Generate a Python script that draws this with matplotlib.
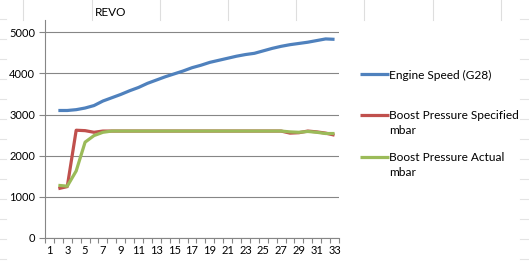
import matplotlib
matplotlib.use("Agg")
import matplotlib.pyplot as plt
from matplotlib.lines import Line2D
from matplotlib.legend_handler import HandlerLine2D
import numpy as np

categories = list(range(1, 34))
x_labels = [str(c) if c % 2 == 1 else "" for c in categories]

data_x = list(range(2, 34))
engine_speed = [3100, 3100, 3120, 3160, 3220, 3330, 3410, 3490, 3580, 3660, 3760,
                3840, 3920, 3990, 4060, 4140, 4200, 4270, 4320, 4370, 4420, 4460,
                4490, 4550, 4610, 4660, 4700, 4730, 4760, 4800, 4840, 4830]
boost_specified = [1200, 1250, 2620, 2610, 2570, 2600, 2600, 2600, 2600, 2600, 2600,
                   2600, 2600, 2600, 2600, 2600, 2600, 2600, 2600, 2600, 2600, 2600,
                   2600, 2600, 2600, 2600, 2550, 2560, 2600, 2580, 2550, 2500]
boost_actual = [1280, 1260, 1630, 2330, 2490, 2570, 2600, 2600, 2600, 2600, 2600,
                2600, 2600, 2600, 2600, 2600, 2600, 2600, 2600, 2600, 2600, 2600,
                2600, 2600, 2600, 2600, 2580, 2570, 2590, 2570, 2540, 2540]

labels = ["Engine Speed (G28)", "Boost Pressure Specified\nmbar", "Boost Pressure Actual\nmbar"]
colors = ["#4F81BD", "#C0504D", "#9BBB59"]
title = "REVO"

plt.rcParams['font.family'] = ['Lato', 'DejaVu Sans']
W, H = 529, 266
fig = plt.figure(figsize=(W / 100, H / 100), dpi=100)
fig.patch.set_facecolor("white")

# faint spreadsheet cell lines behind the chart
for xc in [23, 92, 160, 228, 296, 364, 433, 501]:
    fig.add_artist(Line2D([xc / W, xc / W], [1 - 20 / H, 1], color="#dedede", lw=0.8, zorder=0))
for yr in range(19, 266, 20):
    fig.add_artist(Line2D([520 / W, 1], [1 - yr / H, 1 - yr / H], color="#e4e4e4", lw=0.8, zorder=0))
    fig.add_artist(Line2D([0, 6 / W], [1 - yr / H, 1 - yr / H], color="#e4e4e4", lw=0.8, zorder=0))

ax = fig.add_axes([45 / W, 1 - 238 / H, (339 - 45) / W, (238 - 20) / H])
ax.set_facecolor("none")

lines = []
for series, c, lab in zip([engine_speed, boost_specified, boost_actual], colors, labels):
    ln, = ax.plot(data_x, series, color=c, lw=2.3, label=lab, solid_capstyle="butt", zorder=3)
    lines.append(ln)

ax.set_xlim(0.5, 33.5)
ax.set_ylim(0, 5300)
ax.set_yticks([0, 1000, 2000, 3000, 4000, 5000])
ax.set_xticks(categories)
ax.set_xticklabels(x_labels)
ax.set_xticks(np.arange(0.5, 34, 1), minor=True)
ax.tick_params(axis="x", which="major", length=0, labelsize=8, pad=5)
ax.tick_params(axis="x", which="minor", length=3.5, color="#868686", width=0.8)
ax.tick_params(axis="y", which="major", length=4, color="#868686", width=0.8, labelsize=8, pad=3)
ax.grid(axis="y", color="#868686", lw=0.8)
for s in ["top", "right"]:
    ax.spines[s].set_visible(False)
for s in ["left", "bottom"]:
    ax.spines[s].set_color("#868686")
    ax.spines[s].set_linewidth(0.8)
ax.set_axisbelow(True)

fig.text(95 / W, 1 - 12 / H, title, fontsize=8.5, va="center", ha="left")


class ShiftedLineHandler(HandlerLine2D):
    """Line handle shifted up (in points) so it sits beside the first line of a multi-line label."""
    def __init__(self, shift_pt=0.0, **kw):
        super().__init__(**kw)
        self.shift_pt = shift_pt

    def create_artists(self, legend, orig_handle, xdescent, ydescent, width, height, fontsize, trans):
        arts = super().create_artists(legend, orig_handle, xdescent, ydescent,
                                      width, height, fontsize, trans)
        for a in arts:
            yd = np.asarray(a.get_ydata(), dtype=float)
            a.set_ydata(yd + self.shift_pt)
        return arts


legend_centers = [75, 123, 165]
shifts = [0.0, 5.8, 5.8]
for ln, lab, yc, sh in zip(lines, labels, legend_centers, shifts):
    lg = fig.legend(handles=[ln], labels=[lab], loc="center left",
                    bbox_to_anchor=(360 / W, 1 - yc / H), frameon=False,
                    fontsize=8.6, handlelength=2.4, handletextpad=0.05,
                    borderpad=0, borderaxespad=0,
                    handler_map={ln: ShiftedLineHandler(shift_pt=sh)})
    for t in lg.get_texts():
        t.set_linespacing(1.45)

fig.savefig("out.png", dpi=100)
